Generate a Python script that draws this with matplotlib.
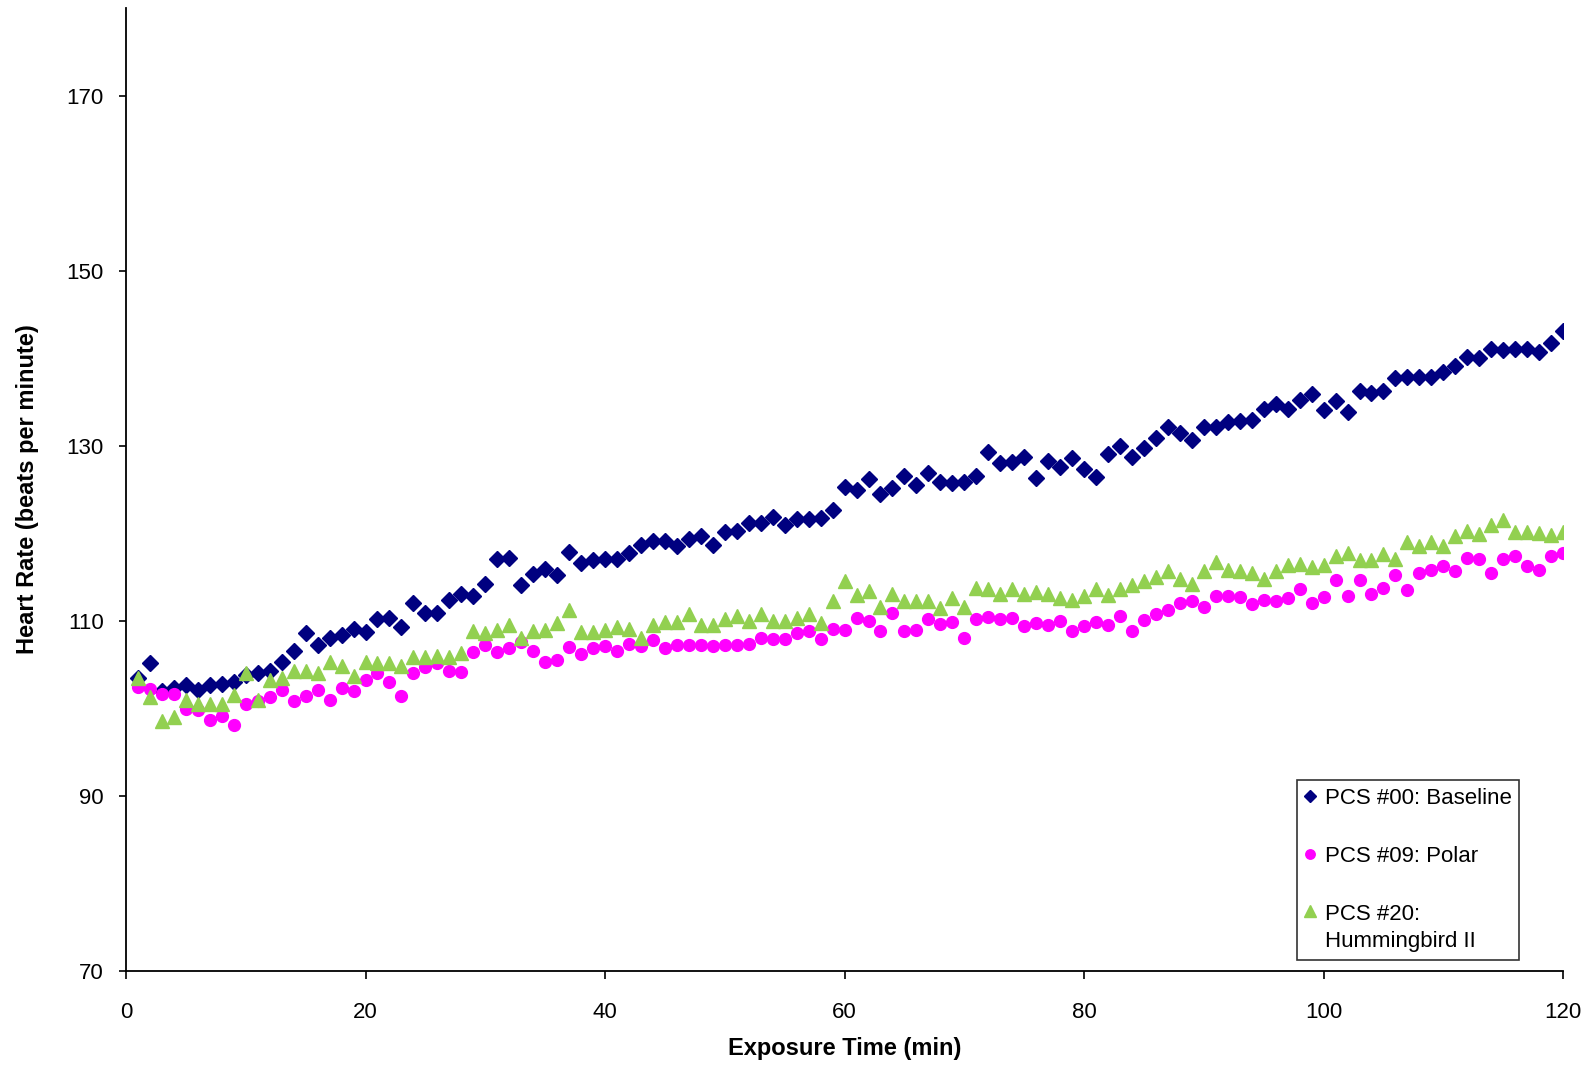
import matplotlib
matplotlib.use("Agg")
import matplotlib.pyplot as plt
import numpy as np

plt.rcParams['font.family'] = ['Liberation Sans', 'DejaVu Sans']

minutes = list(range(1, 121))

baseline = [103.5, 105.2, 102.0, 102.3, 102.7, 102.1, 102.7, 102.8, 103.0, 103.8,
            104.1, 104.3, 105.3, 106.6, 108.6, 107.3, 108.0, 108.4, 109.1, 108.7,
            110.2, 110.3, 109.3, 112.1, 110.9, 110.9, 112.4, 113.1, 112.8, 114.2,
            117.1, 117.2, 114.1, 115.3, 115.9, 115.2, 117.9, 116.6, 117.0, 117.1,
            117.1, 117.8, 118.7, 119.1, 119.1, 118.5, 119.3, 119.7, 118.7, 120.1,
            120.3, 121.2, 121.2, 121.9, 121.0, 121.6, 121.6, 121.7, 122.7, 125.3,
            125.0, 126.2, 124.5, 125.2, 126.6, 125.5, 126.9, 125.9, 125.7, 125.9,
            126.6, 129.3, 128.0, 128.1, 128.7, 126.3, 128.3, 127.6, 128.6, 127.4,
            126.4, 129.1, 130.0, 128.7, 129.7, 130.9, 132.2, 131.5, 130.7, 132.1,
            132.2, 132.7, 132.8, 132.9, 134.2, 134.8, 134.2, 135.2, 135.9, 134.1,
            135.1, 133.9, 136.2, 136.0, 136.2, 137.7, 137.9, 137.8, 137.9, 138.4,
            139.1, 140.1, 140.0, 141.0, 140.9, 141.0, 141.0, 140.7, 141.7, 143.1]

polar = [102.4, 102.2, 101.6, 101.6, 99.9, 99.8, 98.7, 99.1, 98.1, 100.5,
         100.8, 101.3, 102.1, 100.9, 101.4, 102.1, 101.0, 102.3, 102.0, 103.3,
         104.0, 103.0, 101.4, 104.1, 104.7, 105.2, 104.3, 104.2, 106.5, 107.2,
         106.5, 106.9, 107.6, 106.6, 105.3, 105.5, 107.0, 106.2, 106.9, 107.1,
         106.6, 107.4, 107.1, 107.8, 106.9, 107.3, 107.2, 107.3, 107.1, 107.2,
         107.3, 107.4, 108.1, 107.9, 107.9, 108.6, 108.8, 107.9, 109.1, 109.0,
         110.3, 110.0, 108.8, 110.9, 108.8, 109.0, 110.2, 109.7, 109.9, 108.0,
         110.2, 110.5, 110.2, 110.3, 109.4, 109.8, 109.5, 110.0, 108.8, 109.4,
         109.9, 109.5, 110.6, 108.8, 110.1, 110.8, 111.2, 112.1, 112.3, 111.6,
         112.8, 112.8, 112.7, 111.9, 112.4, 112.3, 112.6, 113.6, 112.0, 112.7,
         114.7, 112.9, 114.7, 113.1, 113.8, 115.2, 113.5, 115.5, 115.8, 116.3,
         115.7, 117.2, 117.1, 115.5, 117.1, 117.4, 116.3, 115.8, 117.4, 117.8]

hummingbird = [103.5, 101.3, 98.6, 99.0, 101.0, 100.5, 100.5, 100.5, 101.5, 104.0,
               101.0, 103.3, 103.5, 104.3, 104.3, 104.0, 105.3, 104.9, 103.7, 105.3,
               105.2, 105.2, 104.9, 105.9, 105.9, 106.0, 105.9, 106.3, 108.8, 108.6,
               109.0, 109.5, 108.1, 108.8, 109.0, 109.8, 111.3, 108.7, 108.7, 109.0,
               109.3, 109.1, 108.1, 109.5, 109.9, 109.9, 110.8, 109.5, 109.5, 110.2,
               110.6, 110.0, 110.8, 110.0, 110.0, 110.3, 110.8, 109.8, 112.3, 114.5,
               113.0, 113.4, 111.6, 113.1, 112.3, 112.3, 112.3, 111.5, 112.6, 111.6,
               113.8, 113.6, 113.1, 113.6, 113.1, 113.3, 113.1, 112.6, 112.4, 112.9,
               113.6, 113.0, 113.6, 114.1, 114.5, 115.0, 115.7, 114.8, 114.2, 115.7,
               116.7, 115.8, 115.7, 115.5, 114.8, 115.7, 116.4, 116.5, 116.2, 116.4,
               117.4, 117.7, 117.0, 117.0, 117.6, 117.1, 119.0, 118.5, 119.0, 118.5,
               119.7, 120.3, 119.9, 121.0, 121.5, 120.1, 120.2, 120.0, 119.8, 120.2]

labels = ["PCS #00: Baseline", "PCS #09: Polar", "PCS #20:\nHummingbird II"]
x_ticks = [0, 20, 40, 60, 80, 100, 120]
y_ticks = [70, 90, 110, 130, 150, 170]

fig = plt.figure(figsize=(15.95, 10.66), dpi=100)
ax = fig.add_axes([0.079, 0.089, 0.901, 0.9035])

ax.plot(minutes, baseline, linestyle='none', marker='D', markersize=8,
        color='#000080', label=labels[0])
ax.plot(minutes, polar, linestyle='none', marker='o', markersize=8.5,
        color='#FF00FF', label=labels[1])
ax.plot(minutes, hummingbird, linestyle='none', marker='^', markersize=10.5,
        color='#92D050', label=labels[2])

ax.set_xlim(0, 120)
ax.set_ylim(70, 180)
ax.set_xticks(x_ticks)
ax.set_yticks(y_ticks)
ax.spines['top'].set_visible(False)
ax.spines['right'].set_visible(False)
ax.spines['left'].set_linewidth(1.3)
ax.spines['bottom'].set_linewidth(1.3)
ax.tick_params(axis='x', direction='out', length=6, width=1.2,
               labelsize=16, pad=16)
ax.tick_params(axis='y', direction='out', length=5, width=1.2,
               labelsize=16, pad=11)

ax.set_xlabel("Exposure Time (min)", fontsize=17, fontweight='bold', labelpad=10)
ax.set_ylabel("Heart Rate (beats per minute)", fontsize=17, fontweight='bold', labelpad=20)

leg = ax.legend(loc='upper left', bbox_to_anchor=(0.8132, 0.2683),
                bbox_transform=fig.transFigure, fontsize=16,
                frameon=True, fancybox=False, edgecolor='black',
                handlelength=0.5, handletextpad=0.4, labelspacing=1.68,
                borderpad=0.35, borderaxespad=0, markerscale=0.8)
leg.get_frame().set_linewidth(1.2)
for t in leg.get_texts():
    t.set_linespacing(1.35)
# put the third legend marker level with the first line of its label
h3 = leg.legend_handles[2]
h3.set_ydata(np.asarray(h3.get_ydata(), dtype=float) + 12.5)

fig.savefig("out.png", dpi=100)
